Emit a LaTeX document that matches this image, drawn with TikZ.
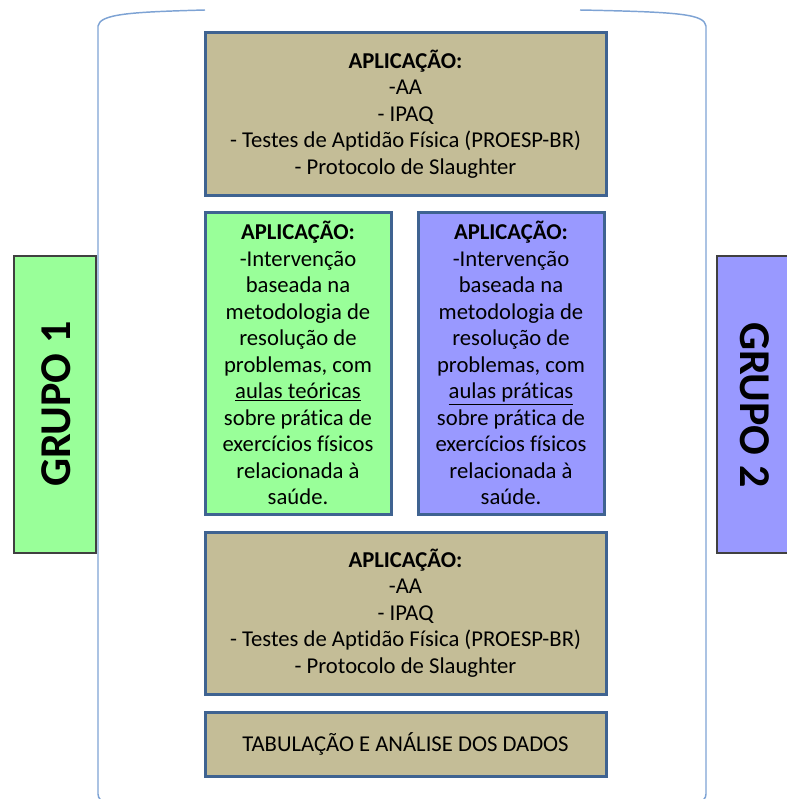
\documentclass[tikz,border=0pt]{standalone}
\usepackage{fontspec}
\setmainfont[Ligatures=NoCommon]{Carlito}
\definecolor{tanfill}{HTML}{C4BD97}
\definecolor{boxborder}{HTML}{3F6391}
\definecolor{greenfill}{HTML}{99FF99}
\definecolor{purplefill}{HTML}{9999FF}
\definecolor{framecol}{HTML}{7EA3D4}
\definecolor{grpborder}{HTML}{404040}
\tikzset{
  stagebox/.style={draw=boxborder, line width=2.25pt, align=center, inner sep=0pt,
    font=\fontsize{17}{19.9}\selectfont},
  tanbox/.style={stagebox, fill=tanfill, minimum width=300.75pt},
  groupbox/.style={stagebox, minimum width=139.5pt, minimum height=226.5pt},
  grouplabel/.style={draw=grpborder, line width=0.9pt, inner sep=0pt},
  grouptext/.style={font=\fontsize{33}{36}\selectfont\bfseries},
  frame/.style={draw=framecol, line width=1.1pt}
}
\begin{document}
\begin{tikzpicture}[x=0.75pt,y=-0.75pt]
\useasboundingbox (0,0) rectangle (787,799);
% outer cylinder-like frame
\draw[frame] (205,10) .. controls (130,12) and (100,14) .. (98,26)
  -- (98,794) arc[start angle=180, end angle=90, radius=8] -- (698,802)
  arc[start angle=90, end angle=0, radius=8] -- (706,26)
  .. controls (704,14) and (680,12) .. (580,10);
% group labels
\node[grouplabel, fill=greenfill, minimum width=61.5pt, minimum height=222.75pt] (g1) at (55,404.5) {};
\node[grouptext, rotate=90] (g1t) at (56,404) {GRUPO 1};
\node[grouplabel, fill=purplefill, minimum width=56.25pt, minimum height=222.75pt] (g2) at (754.5,404.5) {};
\node[grouptext, rotate=-90] (g2t) at (755,405) {GRUPO 2};
% boxes
\node[tanbox, minimum height=121.5pt] (top) at (405.5,114) {\textbf{APLICAÇÃO:}\\-AA\\- IPAQ\\- Testes de Aptidão Física (PROESP-BR)\\- Protocolo de Slaughter};
\node[groupbox, fill=greenfill] (green) at (298,363) {\textbf{APLICAÇÃO:}\\-Intervenção\\baseada na\\metodologia de\\resolução de\\problemas, com\\\underline{aulas teóricas}\\sobre prática de\\exercícios físicos\\relacionada à\\saúde.};
\node[groupbox, fill=purplefill] (purple) at (511,363) {\textbf{APLICAÇÃO:}\\-Intervenção\\baseada na\\metodologia de\\resolução de\\problemas, com\\\underline{aulas práticas}\\sobre prática de\\exercícios físicos\\relacionada à\\saúde.};
\node[tanbox, minimum height=121.5pt] (bottom) at (405.5,613) {\textbf{APLICAÇÃO:}\\-AA\\- IPAQ\\- Testes de Aptidão Física (PROESP-BR)\\- Protocolo de Slaughter};
\node[tanbox, minimum height=48pt] (tab) at (405.5,744) {TABULAÇÃO E ANÁLISE DOS DADOS};
\end{tikzpicture}
\end{document}
